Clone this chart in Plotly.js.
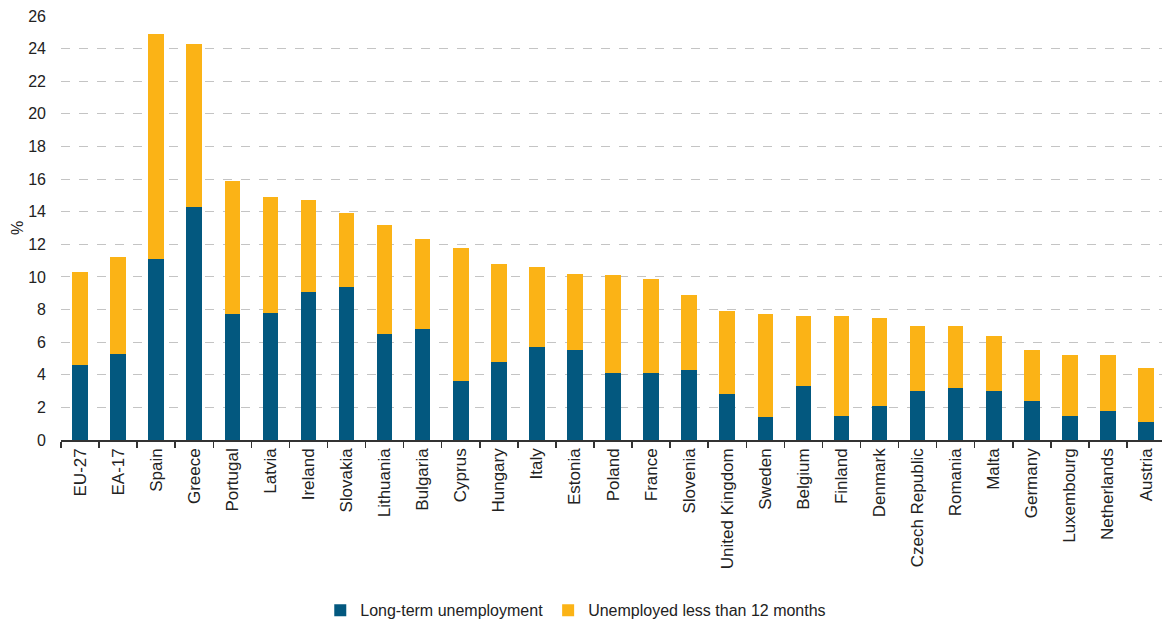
<!DOCTYPE html>
<html>
<head>
<meta charset="utf-8">
<script src="https://cdn.plot.ly/plotly-3.0.1.min.js"></script>
<style>
html, body { margin: 0; padding: 0; background: #fff; overflow: hidden; }
#chart { width: 1162px; height: 624px; }
</style>
</head>
<body>
<div id="chart"></div>
<script>
const countries = ["EU-27","EA-17","Spain","Greece","Portugal","Latvia","Ireland","Slovakia","Lithuania","Bulgaria","Cyprus","Hungary","Italy","Estonia","Poland","France","Slovenia","United Kingdom","Sweden","Belgium","Finland","Denmark","Czech Republic","Romania","Malta","Germany","Luxembourg","Netherlands","Austria"];
const longTerm = [4.6,5.3,11.1,14.3,7.7,7.8,9.1,9.4,6.5,6.8,3.6,4.8,5.7,5.5,4.1,4.1,4.3,2.8,1.4,3.3,1.5,2.1,3.0,3.2,3.0,2.4,1.5,1.8,1.1];
const totalRate = [10.3,11.2,24.9,24.3,15.9,14.9,14.7,13.9,13.2,12.3,11.8,10.8,10.6,10.2,10.1,9.9,8.9,7.9,7.7,7.6,7.6,7.5,7.0,7.0,6.4,5.5,5.2,5.2,4.4];
const shortTerm = totalRate.map((t, i) => Math.round((t - longTerm[i]) * 10) / 10);
const seriesNames = ["Long-term unemployment", "Unemployed less than 12 months"];
const yTicks = [0,2,4,6,8,10,12,14,16,18,20,22,24,26];

const FONT = "Arial, 'Liberation Sans', sans-serif";

const traces = [
  {type: "bar", name: seriesNames[0], x: countries, y: longTerm,
   marker: {color: "#03587F"}, hoverinfo: "x+y+name"},
  {type: "bar", name: seriesNames[1], x: countries, y: shortTerm,
   marker: {color: "#FBB316"}, hoverinfo: "x+y+name"}
];

const layout = {
  width: 1162, height: 624,
  margin: {l: 61, r: 0, t: 16, b: 184, pad: 0},
  barmode: "stack",
  bargap: 0.59,
  paper_bgcolor: "#ffffff",
  plot_bgcolor: "#ffffff",
  font: {family: FONT, color: "#222", size: 16},
  showlegend: true,
  legend: {
    orientation: "h", xref: "container", yref: "container",
    x: 0.4955, xanchor: "center", y: 0.022, yanchor: "middle",
    font: {family: FONT, size: 16, color: "#222"},
    itemwidth: 30, traceorder: "normal"
  },
  xaxis: {
    type: "category",
    range: [-0.5, 28.42],
    tickangle: -90,
    tickfont: {family: FONT, size: 17, color: "#222"},
    ticks: "outside", tickson: "boundaries", ticklen: 6, tickwidth: 1.5, tickcolor: "#333",
    showline: true, linecolor: "#333", linewidth: 1.5,
    showgrid: false, zeroline: false, fixedrange: true
  },
  yaxis: {
    range: [0, 26],
    tickvals: yTicks,
    ticktext: yTicks.map(String),
    tickfont: {family: FONT, size: 16, color: "#222"},
    ticks: "", ticklabelstandoff: 14,
    showline: false, zeroline: false,
    showgrid: true, gridcolor: "#c4c4c4", griddash: "dash", gridwidth: 1,
    title: {text: "%", font: {family: FONT, size: 16, color: "#222"}, standoff: 0},
    fixedrange: true
  }
};

Plotly.newPlot("chart", traces, layout, {displayModeBar: false, staticPlot: true});
</script>
</body>
</html>
